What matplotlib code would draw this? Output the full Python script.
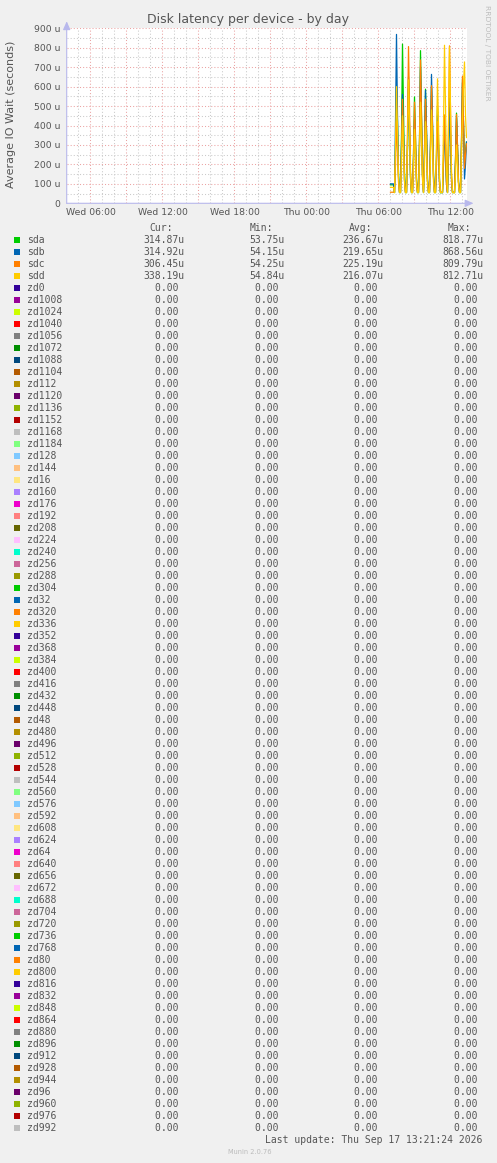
"""
Munin style 'Disk latency per device - by day' graph, redrawn with matplotlib.
Everything is laid out in pixels of a 497x1163 canvas (dpi 100).
"""
import numpy as np
import matplotlib
matplotlib.use("Agg")
import matplotlib.pyplot as plt
from matplotlib.patches import Rectangle
from matplotlib.ticker import MultipleLocator

W, H, DPI = 497, 1163, 100
PT = 72.0 / DPI                 # points per pixel

# ----------------------------- data ----------------------------------------
TITLE = "Disk latency per device - by day"
YLABEL = "Average IO Wait (seconds)"
LAST_UPDATE = "Last update: Thu Sep 17 13:21:24 2026"
VERSION = "Munin 2.0.76"
WATERMARK = "RRDTOOL / TOBI OETIKER"

# x axis in hours since Wed 00:00
X_RANGE = (4.017, 37.35)
X_MAJOR = [6, 9, 12, 15, 18, 21, 24, 27, 30, 33, 36]
X_LABELS = ["Wed 06:00", "", "Wed 12:00", "", "Wed 18:00", "",
            "Thu 00:00", "", "Thu 06:00", "", "Thu 12:00"]
Y_TICKS = [0, 100, 200, 300, 400, 500, 600, 700, 800, 900]
Y_LABELS = ["0", "100 u", "200 u", "300 u", "400 u", "500 u",
            "600 u", "700 u", "800 u", "900 u"]

T_FIRST = 31.0                  # first sample: Thu 07:00
STEP_H = 5 / 60.0               # 5 minute samples

# latency per disk, microseconds
sda = [95, 95, 95, 95, 55, 280, 600, 420, 150, 55,
       55, 350, 818.77, 480, 160, 55, 55, 300, 650, 400,
       140, 55, 55, 260, 547, 350, 130, 55, 55, 330,
       785, 460, 150, 55, 260, 587, 380, 120, 55, 55,
       300, 600, 400, 140, 55, 55, 250, 500, 330, 120,
       53.75, 55, 55, 230, 430, 300, 110, 55, 250, 540,
       360, 130, 55, 55, 55, 230, 464, 300, 110, 55,
       55, 320, 640, 420, 200, 260, 314.87]
sdb = [100, 100, 100, 100, 56, 420, 868.56, 450, 140, 56,
       56, 300, 560, 350, 120, 56, 56, 280, 590, 380,
       130, 56, 56, 210, 430, 280, 110, 56, 56, 300,
       700, 420, 140, 56, 270, 580, 370, 120, 56, 56,
       320, 663, 420, 150, 56, 56, 220, 450, 290, 110,
       56, 56, 54.15, 200, 400, 260, 100, 56, 240, 520,
       340, 120, 56, 56, 56, 210, 440, 280, 110, 56,
       56, 300, 620, 400, 125, 200, 314.92]
sdc = [57, 57, 57, 57, 57, 200, 420, 280, 110, 57,
       57, 260, 535, 340, 120, 57, 57, 380, 806, 500,
       160, 57, 57, 250, 520, 330, 120, 57, 57, 320,
       737, 450, 140, 57, 250, 535, 340, 120, 57, 57,
       290, 605, 380, 130, 57, 57, 200, 420, 270, 100,
       57, 57, 57, 220, 455, 290, 100, 57, 380, 809.79,
       480, 150, 57, 57, 54.25, 220, 457, 290, 110, 57,
       57, 320, 654, 420, 180, 250, 306.45]
sdd = [82, 82, 82, 82, 55, 300, 600, 380, 130, 55,
       55, 220, 450, 290, 110, 55, 55, 300, 635, 400,
       140, 55, 55, 190, 380, 250, 100, 55, 55, 250,
       520, 330, 120, 55, 200, 420, 270, 100, 55, 55,
       230, 480, 310, 110, 55, 55, 310, 640, 400, 130,
       55, 55, 55, 400, 812.71, 500, 160, 55, 390, 805,
       490, 150, 55, 55, 54.84, 150, 300, 200, 90, 55,
       55, 250, 450, 600, 727, 450, 338.19]
DISK_SERIES = {"sda": sda, "sdb": sdb, "sdc": sdc, "sdd": sdd}

DEVICES = ["sda", "sdb", "sdc", "sdd", "zd0", "zd1008", "zd1024", "zd1040",
           "zd1056", "zd1072", "zd1088", "zd1104", "zd112", "zd1120", "zd1136",
           "zd1152", "zd1168", "zd1184", "zd128", "zd144", "zd16", "zd160",
           "zd176", "zd192", "zd208", "zd224", "zd240", "zd256", "zd288",
           "zd304", "zd32", "zd320", "zd336", "zd352", "zd368", "zd384",
           "zd400", "zd416", "zd432", "zd448", "zd48", "zd480", "zd496",
           "zd512", "zd528", "zd544", "zd560", "zd576", "zd592", "zd608",
           "zd624", "zd64", "zd640", "zd656", "zd672", "zd688", "zd704",
           "zd720", "zd736", "zd768", "zd80", "zd800", "zd816", "zd832",
           "zd848", "zd864", "zd880", "zd896", "zd912", "zd928", "zd944",
           "zd96", "zd960", "zd976", "zd992"]
N_ZD = len(DEVICES) - 4
CUR = [314.87, 314.92, 306.45, 338.19] + [0.0] * N_ZD
MIN = [53.75, 54.15, 54.25, 54.84] + [0.0] * N_ZD
AVG = [236.67, 219.65, 225.19, 216.07] + [0.0] * N_ZD
MAX = [818.77, 868.56, 809.79, 812.71] + [0.0] * N_ZD

# munin's colour cycle
PALETTE = ["#00CC00", "#0066B3", "#FF8000", "#FFCC00", "#330099", "#990099",
           "#CCFF00", "#FF0000", "#808080", "#008F00", "#00487D", "#B35A00",
           "#B38F00", "#6B006B", "#8FB300", "#B30000", "#BEBEBE", "#80FF80",
           "#80C9FF", "#FFC080", "#FFE680", "#AA80FF", "#EE00CC", "#FF8080",
           "#666600", "#FFBFFF", "#00FFCC", "#CC6699", "#999900"]

# ----------------------------- style ---------------------------------------
BG = "#F0F0F0"
TXT = "#555555"
AXIS_C = "#B8B8EC"
MGRID = "#EBA3A3"
GRID = "#CACACA"

# plot box in pixels
PX_L, PX_R, PX_T, PX_B = 66.7, 466.7, 28.3, 203.3


def fmt(v):
    return "0.00 " if v == 0 else f"{v:.2f}u"


fig = plt.figure(figsize=(W / DPI, H / DPI), dpi=DPI, facecolor=BG)

# overlay in pixel coordinates for all the free text
pix = fig.add_axes([0, 0, 1, 1])
pix.set_xlim(0, W); pix.set_ylim(H, 0); pix.axis("off")

ax = fig.add_axes([PX_L / W, 1 - PX_B / H, (PX_R - PX_L) / W, (PX_B - PX_T) / H])
ax.set_facecolor("white")
ax.set_xlim(*X_RANGE)
ax.set_ylim(0, 900)

# grid: major every 3h / 100u, minor every 1h / 50u
ax.set_xticks(X_MAJOR)
ax.set_xticklabels(X_LABELS)
ax.xaxis.set_minor_locator(MultipleLocator(1))
ax.set_yticks(Y_TICKS)
ax.set_yticklabels(Y_LABELS)
ax.yaxis.set_minor_locator(MultipleLocator(50))
ax.set_axisbelow(True)
ax.grid(which="minor", color=GRID, lw=0.75, linestyle=(0, (1, 2)))
ax.grid(which="major", color=MGRID, lw=0.75, linestyle=(0, (1, 2)))
ax.tick_params(which="both", length=0, colors=TXT, labelsize=6.7)
ax.tick_params(axis="y", pad=6.7 * PT)
ax.tick_params(axis="x", pad=4.5 * PT)
for s in ax.spines.values():
    s.set_visible(False)

# axis lines with arrow heads, munin style
ax.annotate("", xy=(1.017, 0), xytext=(0, 0), xycoords="axes fraction",
            arrowprops=dict(arrowstyle="-|>,head_length=0.5,head_width=0.22",
                            color=AXIS_C, lw=0.8, shrinkA=0, shrinkB=0))
ax.annotate("", xy=(0, 1.04), xytext=(0, 0), xycoords="axes fraction",
            arrowprops=dict(arrowstyle="-|>,head_length=0.5,head_width=0.22",
                            color=AXIS_C, lw=0.8, shrinkA=0, shrinkB=0))

# the four disks (zd* volumes are all zero and hidden under the axis)
for i, (name, vals) in enumerate(DISK_SERIES.items()):
    t = T_FIRST + STEP_H * np.arange(len(vals))
    ax.plot(t, vals, color=PALETTE[i], lw=0.9, zorder=3 + i)

# titles
pix.text(248, 19, TITLE, ha="center", va="center", fontsize=9, color=TXT)
pix.text(10.7, 114, YLABEL, ha="center", va="center", rotation=90,
         fontsize=8, color=TXT)
pix.text(487, 53, WATERMARK, ha="center", va="center", rotation=270,
         fontsize=5.4, color="#BDBDBD")

# legend table
MONO = "DejaVu Sans Mono"
ROW0, ROW_H, CH = 239.7, 12.0, 5.83
COL_R = [184.5, 284.5, 383.5, 482.7]
for head, xr in zip(["Cur:", "Min:", "Avg:", "Max:"], COL_R):
    pix.text(xr - 11.5, ROW0 - ROW_H, head, ha="right", va="center",
             family=MONO, fontsize=7, color=TXT)

for k, name in enumerate(DEVICES):
    yc = ROW0 + ROW_H * k
    pix.add_patch(Rectangle((14, yc - 3), 6, 6, color=PALETTE[k % len(PALETTE)],
                            lw=0))
    pix.text(26.7, yc, name, ha="left", va="center", family=MONO,
             fontsize=7, color=TXT)
    for vals, xr in zip([CUR, MIN, AVG, MAX], COL_R):
        s = fmt(vals[k])
        pix.text(xr - CH * len(s), yc, s, ha="left", va="center",
                 family=MONO, fontsize=7, color=TXT)

pix.text(482.7, 1140, LAST_UPDATE, ha="right", va="center", family=MONO,
         fontsize=7, color=TXT)
pix.text(249.5, 1152, VERSION, ha="center", va="center", fontsize=4.8,
         color="#BBBBBB")

fig.savefig("out.png", dpi=DPI, facecolor=BG)
